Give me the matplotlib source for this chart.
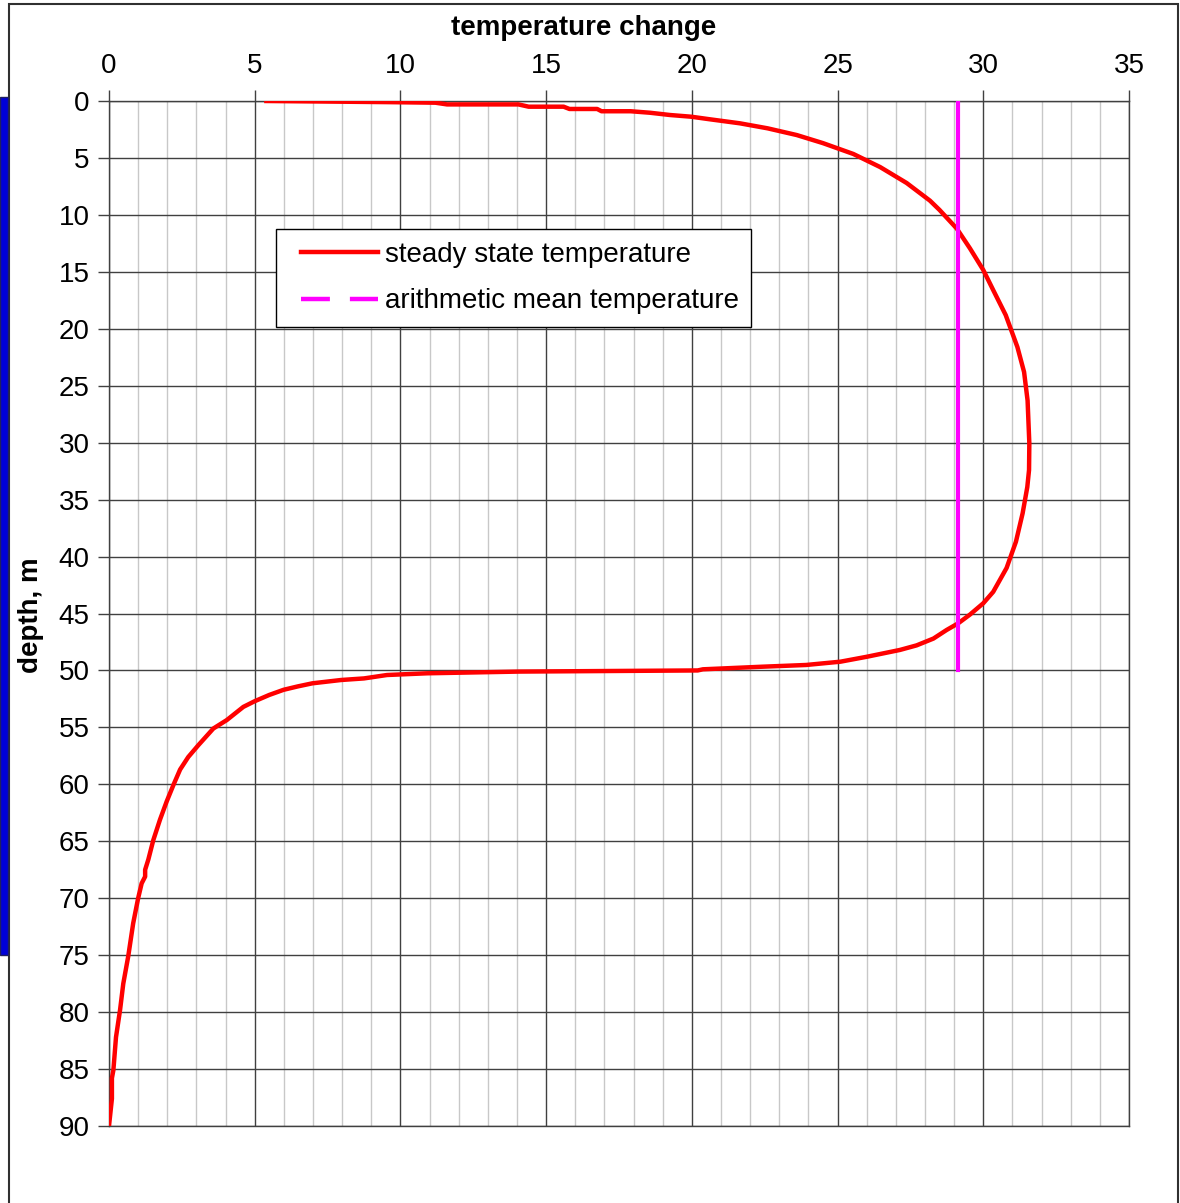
import matplotlib
matplotlib.use("Agg")
import matplotlib.pyplot as plt
from matplotlib.lines import Line2D
from matplotlib.patches import Rectangle
from matplotlib.legend_handler import HandlerLine2D
import numpy as np

plt.rcParams['font.family'] = ['Liberation Sans', 'DejaVu Sans']

# steady state temperature profile (temperature change, depth m)
temp_steady = [5.4, 9.6, 11.2, 11.6, 14.05, 14.4, 15.6, 15.8, 16.75, 16.9, 17.9,
               18.56, 19.25, 19.98, 20.6, 21.65, 22.6, 23.6, 24.5, 25.54, 26.46,
               27.37, 28.17, 28.5, 29.09, 29.54, 30.0, 30.34, 30.77, 31.17, 31.4,
               31.52, 31.58, 31.57, 31.51, 31.35, 31.12, 30.8, 30.34, 30.0, 29.54,
               29.14, 28.74, 28.29, 27.71, 27.14, 26.57, 26.0, 25.1, 23.92, 22.44,
               20.38, 20.2, 14.07, 10.92, 9.54, 8.75, 7.96, 6.98, 6.48, 5.99, 5.5,
               5.0, 4.61, 4.04, 3.58, 3.07, 2.72, 2.44, 2.21, 1.98, 1.75, 1.52,
               1.35, 1.24, 1.24, 1.12, 1.0, 0.83, 0.66, 0.49, 0.38, 0.24, 0.15,
               0.1, 0.1, 0.0]
depth_steady = [0.0, 0.1, 0.15, 0.3, 0.3, 0.5, 0.5, 0.7, 0.7, 0.9, 0.9,
                1.03, 1.23, 1.38, 1.6, 1.96, 2.4, 2.99, 3.7, 4.65, 5.8,
                7.2, 8.75, 9.57, 11.2, 12.93, 14.84, 16.6, 18.8, 21.6, 23.8,
                26.3, 30.06, 32.4, 33.9, 36.2, 38.7, 41.0, 43.1, 44.1, 45.1,
                45.86, 46.45, 47.2, 47.8, 48.2, 48.5, 48.8, 49.23, 49.52, 49.67,
                49.9, 50.0, 50.1, 50.25, 50.4, 50.7, 50.84, 51.13, 51.4, 51.7, 52.15,
                52.7, 53.2, 54.36, 55.1, 56.55, 57.6, 58.7, 60.06, 61.5, 63.1, 64.9,
                66.6, 67.5, 68.1, 68.7, 70.0, 72.2, 75.1, 77.5, 79.8, 82.2, 85.1,
                85.8, 87.6, 90.0]

# arithmetic mean temperature
temp_mean = [29.13, 29.13]
depth_mean = [0.0, 50.0]

x_ticks = [0, 5, 10, 15, 20, 25, 30, 35]
y_ticks = [0, 5, 10, 15, 20, 25, 30, 35, 40, 45, 50, 55, 60, 65, 70, 75, 80, 85, 90]
series_labels = ['steady state temperature', 'arithmetic mean temperature']

W, H = 1180, 1203
FS = 20
fig = plt.figure(figsize=(W / 100, H / 100), dpi=100)
fig.patch.set_facecolor('white')

# outer frame and blue strip
fig.patches.append(Rectangle((9 / W, -0.01), (1178 - 9) / W, 1 - 4 / H + 0.01,
                             transform=fig.transFigure, fill=False,
                             edgecolor='#303030', linewidth=1.5, zorder=0))
fig.patches.append(Rectangle((0, 1 - 955 / H), 8 / W, (955 - 97) / H,
                             transform=fig.transFigure, facecolor='#0000d8',
                             edgecolor='#202060', linewidth=1.0, zorder=0))

ax = fig.add_axes([109 / W, 1 - 1126 / H, (1129 - 109) / W, (1126 - 101) / H])
ax.set_xlim(0, 35)
ax.set_ylim(90, 0)
ax.xaxis.tick_top()
ax.set_xticks(x_ticks)
ax.set_yticks(y_ticks)
ax.set_xticks(np.arange(0, 36, 1), minor=True)
ax.tick_params(axis='both', which='major', labelsize=FS, length=8, width=1,
               color='#404040', direction='out')
ax.tick_params(axis='x', which='major', pad=8)
ax.tick_params(axis='y', which='major', pad=6)
ax.tick_params(axis='x', which='minor', length=0)
ax.grid(True, which='minor', axis='x', color='#c8c8c8', linewidth=1.0)
ax.grid(True, which='major', axis='both', color='#404040', linewidth=1.0)
ax.set_axisbelow(True)
for s in ax.spines.values():
    s.set_color('#404040')
    s.set_linewidth(1.0)

ax.plot(temp_steady, depth_steady, color='#ff0000', linewidth=3.2,
        solid_joinstyle='round', zorder=3)
ax.plot(temp_mean, depth_mean, color='#ff00ff', linewidth=3.0, zorder=4)


class LeftPadHandler(HandlerLine2D):
    def get_xdata(self, legend, xdescent, ydescent, width, height, fontsize):
        x = np.array([-xdescent + 0.45 * fontsize, -xdescent + width])
        return x, x


handles = [Line2D([], [], color='#ff0000', linewidth=3.2),
           Line2D([], [], color='#ff00ff', linewidth=3.2, dashes=(6.5, 4.5))]
leg = ax.legend(handles, series_labels,
                loc='upper left',
                bbox_to_anchor=((276 - 109) / 1020, 1 - (229 - 101) / 1025),
                borderaxespad=0, fontsize=FS, frameon=True, fancybox=False,
                handlelength=3.22, handletextpad=0.24, labelspacing=0.75,
                borderpad=0.45, framealpha=1,
                handler_map={Line2D: LeftPadHandler()})
leg.get_frame().set_edgecolor('#000000')
leg.get_frame().set_linewidth(1.0)

fig.text(584 / W, 1 - 28 / H, 'temperature change', ha='center', va='center',
         fontsize=FS, fontweight='bold')
fig.text(31 / W, 1 - 615 / H, 'depth, m', ha='center', va='center',
         rotation=90, fontsize=FS, fontweight='bold')

fig.savefig('out.png', dpi=100)
